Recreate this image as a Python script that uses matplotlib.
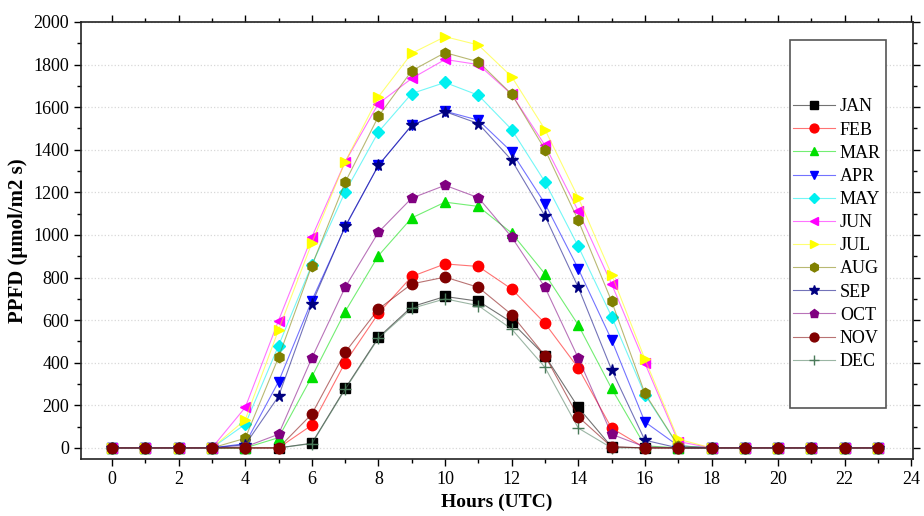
import matplotlib
matplotlib.use("Agg")
from matplotlib import pyplot as plt
from matplotlib.patches import Rectangle
from matplotlib.ticker import MultipleLocator
from matplotlib.colors import to_rgba

hours = list(range(24))
months = ["JAN", "FEB", "MAR", "APR", "MAY", "JUN", "JUL", "AUG", "SEP", "OCT", "NOV", "DEC"]

z4 = [0, 0, 0, 0]
z6 = [0, 0, 0, 0, 0, 0]
jan = z4 + [0, 0, 22, 279, 519, 663, 711, 689, 590, 433, 190, 5, 0, 0] + z6
feb = z4 + [0, 0, 107, 401, 632, 805, 864, 852, 746, 585, 375, 93, 0, 0] + z6
mar = z4 + [0, 48, 334, 640, 903, 1080, 1154, 1134, 1009, 817, 577, 279, 10, 0] + z6
apr = z4 + [20, 311, 692, 1037, 1327, 1515, 1581, 1539, 1390, 1147, 841, 507, 122, 10] + z6
may = z4 + [111, 480, 860, 1202, 1484, 1664, 1716, 1656, 1495, 1249, 946, 617, 250, 10] + z6
jun = z4 + [190, 598, 990, 1343, 1617, 1735, 1824, 1800, 1660, 1421, 1112, 770, 398, 30] + z6
jul = z4 + [132, 554, 962, 1343, 1649, 1853, 1931, 1892, 1743, 1495, 1175, 814, 417, 41] + z6
aug = z4 + [45, 425, 856, 1247, 1557, 1771, 1856, 1813, 1661, 1401, 1068, 689, 256, 10] + z6
sep = z4 + [15, 242, 677, 1040, 1327, 1515, 1579, 1523, 1351, 1089, 754, 367, 36, 0] + z6
octo = z4 + [5, 64, 422, 754, 1013, 1173, 1233, 1175, 990, 754, 422, 64, 5, 0] + z6
nov = z4 + [0, 0, 159, 449, 652, 770, 802, 754, 626, 433, 146, 5, 0, 0] + z6
dec = z4 + [0, 0, 20, 275, 515, 655, 700, 668, 558, 378, 93, 0, 0, 0] + z6

series = [jan, feb, mar, apr, may, jun, jul, aug, sep, octo, nov, dec]
colors = ["#000000", "#ff0000", "#00e000", "#0000ff", "#00f0f0", "#ff00ff",
          "#ffff00", "#808000", "#000080", "#800080", "#800000", "#4a7a5a"]
markers = ["s", "o", "^", "v", "D", "<", ">", "h", "*", "p", "o", "+"]
msizes = [6.5, 7.5, 7.5, 7.5, 6.5, 7.5, 7.5, 7.5, 8.5, 7.5, 7.5, 8]

plt.rcParams['font.family'] = ['Liberation Serif', 'DejaVu Serif']

fig = plt.figure(figsize=(9.24, 5.16), dpi=100)
ax = fig.add_axes([0.0877, 0.1105, 0.9004, 0.8469])

for vals, name, c, m, ms in zip(series, months, colors, markers, msizes):
    z = 2.5 if name == "NOV" else 2
    ax.plot(hours, vals, color=to_rgba(c, 0.55), lw=0.8, marker=m, markersize=ms,
            markeredgecolor=c, markerfacecolor=c, label=name, zorder=z)

ax.set_xlim(-0.93, 24.05)
ax.set_ylim(-52, 2000)
ax.xaxis.set_major_locator(MultipleLocator(2))
ax.xaxis.set_minor_locator(MultipleLocator(1))
ax.yaxis.set_major_locator(MultipleLocator(200))
ax.yaxis.set_minor_locator(MultipleLocator(100))
ax.tick_params(which='both', direction='out', top=True, right=True, labelsize=13)
ax.tick_params(which='major', length=5, width=1)
ax.tick_params(which='minor', length=3, width=1)
ax.yaxis.grid(True, linestyle=':', color='#d8d8d8', lw=0.9)
ax.set_axisbelow(True)
for s in ax.spines.values():
    s.set_linewidth(1.2)
    s.set_color('#222222')

ax.set_xlabel("Hours (UTC)", fontsize=14, fontweight='bold')
ax.set_ylabel("PPFD (μmol/m2 s)", fontsize=15, fontweight='bold')

ax.add_patch(Rectangle((0.852, 0.1167), 0.1155, 0.8423, transform=ax.transAxes,
                       fill=True, facecolor='white', edgecolor='#555555', lw=1.2, zorder=5))
leg = ax.legend(loc='upper left', bbox_to_anchor=(0.8558, 0.825), frameon=False,
                fontsize=13, numpoints=1, handlelength=2.3, handletextpad=0.3,
                labelspacing=0.34, borderpad=0, borderaxespad=0, markerscale=0.85)
leg.set_zorder(6)

plt.savefig("out.png", dpi=100)
